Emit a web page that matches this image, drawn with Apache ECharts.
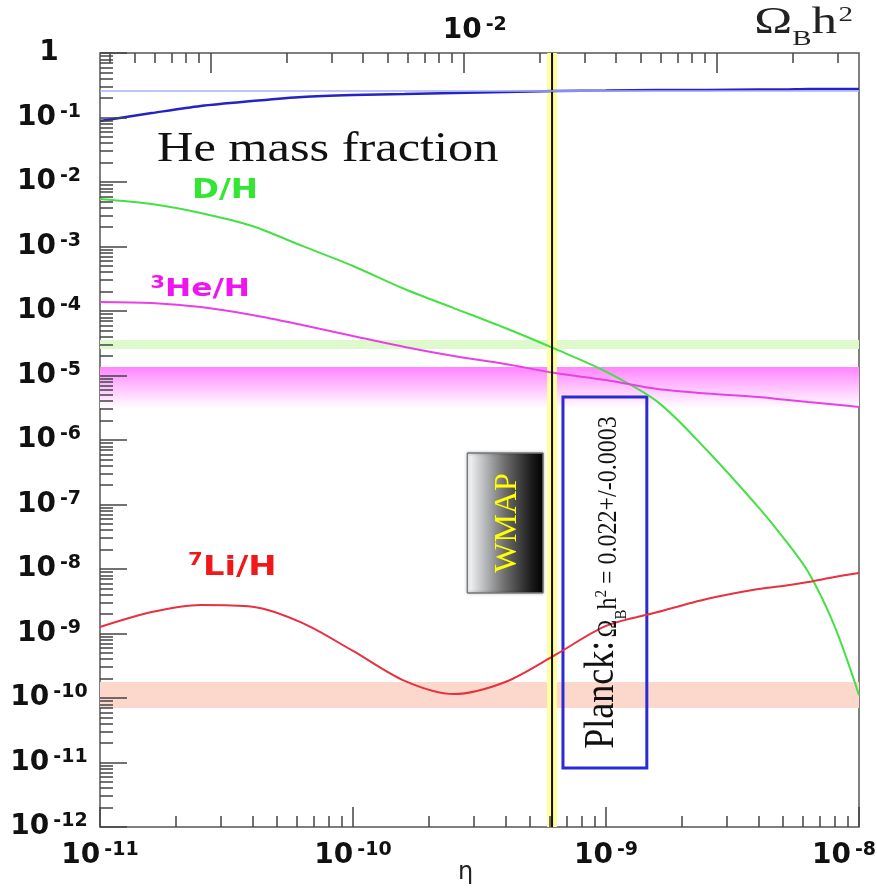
<!DOCTYPE html>
<html>
<head>
<meta charset="utf-8">
<script src="https://cdn.jsdelivr.net/npm/echarts@6/dist/echarts.min.js"></script>
<style>
  html, body { margin: 0; padding: 0; background: #fff; }
  #chart { width: 877px; height: 890px; }
</style>
</head>
<body>
<div id="chart"></div>
<script>
// baryon-to-photon ratio, shared by all curves
const eta = [1e-11, 1.6e-11, 2.5e-11, 4e-11, 6.3e-11, 1e-10, 1.6e-10, 2.5e-10, 4e-10, 6.3e-10,
  1e-9, 1.6e-9, 2.5e-9, 4e-9, 5e-9, 6.3e-9, 8e-9, 1e-8]
// predicted abundances
const heMass = [0.088, 0.117, 0.151, 0.180, 0.208, 0.223, 0.231, 0.240, 0.249, 0.258,
  0.262, 0.267, 0.267, 0.272, 0.272, 0.277, 0.277, 0.277]
const dH = [5.45e-3, 4.56e-3, 3.31e-3, 2.08e-3, 1.02e-3, 4.99e-4, 2.19e-4, 1.11e-4, 5.45e-5, 2.58e-5,
  1.15e-5, 3.9e-6, 7.0e-7, 9.1e-8, 3.13e-8, 8.98e-9, 1.31e-9, 1.11e-10]
const he3H = [1.38e-4, 1.33e-4, 1.15e-4, 8.67e-5, 6.07e-5, 4.10e-5, 2.77e-5, 2.01e-5, 1.51e-5, 1.09e-5,
  8.51e-6, 6.17e-6, 5.26e-6, 4.64e-6, 4.25e-6, 3.88e-6, 3.55e-6, 3.25e-6]
const li7H = [1.26e-9, 2.15e-9, 2.77e-9, 2.6e-9, 1.46e-9, 5.36e-10, 1.84e-10, 1.15e-10, 1.77e-10, 4.65e-10,
  1.31e-9, 2.15e-9, 3.43e-9, 4.90e-9, 5.45e-9, 6.29e-9, 7.51e-9, 8.67e-9]

// observed ranges
const heObs = 0.26
const dObs = [2.58e-5, 3.55e-5]
const he3Obs = [3.13e-6, 1.36e-5]
const liObs = [7.0e-11, 1.77e-10]
const wmapEta = 6.12e-10
const wmapBand = [5.85e-10, 6.4e-10]
const wmapBox = [[2.83e-10, 4.25e-9], [5.64e-10, 6.29e-7]]
const planckBox = [[6.76e-10, 8.2e-12], [1.45e-9, 4.64e-6]]

// axes
const etaRange = [1e-11, 1e-8]
const yRange = [1e-12, 1]
const etaPerOmega = 2.74e-8
const etaDecades = [1e-11, 1e-10, 1e-9, 1e-8]
const yDecades = [1e-12, 1e-11, 1e-10, 1e-9, 1e-8, 1e-7, 1e-6, 1e-5, 1e-4, 1e-3, 1e-2, 1e-1, 1]
const omegaDecades = [1e-3, 1e-2, 1e-1]
const omegaLabels = [1e-2]

function minorTicks (lo, hi) {
  let out = []
  for (let d = lo; d < hi * 0.999; d *= 10) {
    for (let m = 2; m <= 9; m++) out.push(d * m)
  }
  return out
}
const omegaRange = [etaRange[0] / etaPerOmega, etaRange[1] / etaPerOmega]
const etaMinor = minorTicks(1e-11, 1e-8)
const yMinor = minorTicks(1e-12, 1)
const omegaMinor = minorTicks(1e-4, 1).filter(v => v > omegaRange[0] && v < omegaRange[1])

function pow10Label (v) {
  const e = Math.round(Math.log10(v))
  if (e === 0) return '{b|1}'
  return '{b|10}{s|' + e + '}'
}
// the last bottom label sits left of its tick, as in the original
function etaLabel (v) {
  const e = Math.round(Math.log10(v))
  if (e === -8) return '{b|10}{se|' + e + '}'
  return '{b|10}{s|' + e + '}'
}
// top label sits a little right of its tick
function omegaLabel (v) {
  const e = Math.round(Math.log10(v))
  return '{bl|10}{s|' + e + '}'
}
const sans = 'DejaVu Sans'
const powRich = {
  b: { fontFamily: sans, fontWeight: 'bold', fontSize: 28, lineHeight: 30, color: '#111' },
  bl: { fontFamily: sans, fontWeight: 'bold', fontSize: 28, lineHeight: 30, color: '#111', padding: [0, 0, 0, 22] },
  s: { fontFamily: sans, fontWeight: 'bold', fontSize: 19, lineHeight: 16, verticalAlign: 'top', color: '#111', padding: [0, 0, 0, 4] },
  se: { fontFamily: sans, fontWeight: 'bold', fontSize: 19, lineHeight: 16, verticalAlign: 'top', color: '#111', padding: [0, 30, 0, 4] }
}
const tickLine = { color: '#444', width: 1.5 }

function pairs (ys) {
  return eta.map((x, i) => [x, ys[i]])
}

let chart = echarts.init(document.getElementById('chart'))
chart.setOption({
  animation: false,
  grid: {
    left: 100, right: 18, top: 53, bottom: 63,
    outerBoundsMode: 'none',
    containLabel: false,
    show: true, borderColor: '#555', borderWidth: 1.5, backgroundColor: 'transparent'
  },
  xAxis: [
    {
      type: 'log', position: 'bottom', min: etaRange[0], max: etaRange[1], z: 10,
      axisLine: { show: false },
      splitLine: { show: false },
      axisTick: { inside: true, length: 20, customValues: etaDecades, lineStyle: tickLine },
      axisLabel: { customValues: etaDecades, formatter: etaLabel, rich: powRich, margin: 14 },
      name: 'η', nameLocation: 'middle', nameGap: 34, nameMoveOverlap: false,
      nameTextStyle: { fontFamily: sans, fontSize: 24, color: '#222', padding: [0, 28, 0, 0] }
    },
    {
      type: 'log', position: 'bottom', min: etaRange[0], max: etaRange[1], z: 10,
      axisLine: { show: false },
      splitLine: { show: false },
      axisTick: { inside: true, length: 11, customValues: etaMinor, lineStyle: tickLine },
      axisLabel: { show: false }
    },
    {
      type: 'log', position: 'top', min: omegaRange[0], max: omegaRange[1], z: 10,
      axisLine: { show: false },
      splitLine: { show: false },
      axisTick: { inside: true, length: 20, customValues: omegaDecades, lineStyle: tickLine },
      axisLabel: { customValues: omegaLabels, formatter: omegaLabel, rich: powRich, margin: 7 }
    },
    {
      type: 'log', position: 'top', min: omegaRange[0], max: omegaRange[1], z: 10,
      axisLine: { show: false },
      splitLine: { show: false },
      axisTick: { inside: true, length: 10, customValues: omegaMinor, lineStyle: tickLine },
      axisLabel: { show: false }
    }
  ],
  yAxis: [
    {
      type: 'log', position: 'left', min: yRange[0], max: yRange[1], z: 10,
      axisLine: { show: false },
      splitLine: { show: false },
      axisTick: { inside: true, length: 27, customValues: yDecades, lineStyle: tickLine },
      axisLabel: { customValues: yDecades, formatter: pow10Label, rich: powRich, align: 'center', margin: 51 }
    },
    {
      type: 'log', position: 'left', min: yRange[0], max: yRange[1], z: 10,
      axisLine: { show: false },
      splitLine: { show: false },
      axisTick: { inside: true, length: 13, customValues: yMinor, lineStyle: tickLine },
      axisLabel: { show: false }
    }
  ],
  series: [
    {
      name: 'bands',
      type: 'line',
      data: [],
      z: 1,
      silent: true,
      markArea: {
        silent: true,
        label: { show: false },
        data: [
          [{ yAxis: dObs[0], itemStyle: { color: '#def9cc' } }, { yAxis: dObs[1] }],
          [{
            yAxis: he3Obs[1],
            itemStyle: {
              color: {
                type: 'linear', x: 0, y: 0, x2: 0, y2: 1,
                colorStops: [
                  { offset: 0, color: '#ff84ff' },
                  { offset: 0.45, color: '#ffbcff' },
                  { offset: 1, color: '#ffffff' }
                ]
              }
            }
          }, { yAxis: he3Obs[0] }],
          [{ yAxis: liObs[0], itemStyle: { color: '#fcd8cc' } }, { yAxis: liObs[1] }],
          [{ xAxis: wmapBand[0], itemStyle: { color: '#ffff9c' } }, { xAxis: wmapBand[1] }]
        ]
      },
      markLine: {
        silent: true,
        symbol: 'none',
        label: { show: false },
        lineStyle: { color: '#aab0ff', width: 1.5, type: 'solid' },
        data: [{ yAxis: heObs }]
      }
    },
    {
      name: 'He', type: 'line', data: pairs(heMass), z: 3,
      symbol: 'none', smooth: 0.3,
      lineStyle: { color: '#2424c4', width: 2.5 }
    },
    {
      name: 'D/H', type: 'line', data: pairs(dH), z: 3,
      symbol: 'none', smooth: 0.3,
      lineStyle: { color: '#44e044', width: 2 }
    },
    {
      name: '3He/H', type: 'line', data: pairs(he3H), z: 3,
      symbol: 'none', smooth: 0.3,
      lineStyle: { color: '#e840e8', width: 2 }
    },
    {
      name: '7Li/H', type: 'line', data: pairs(li7H), z: 3,
      symbol: 'none', smooth: 0.3,
      lineStyle: { color: '#e83040', width: 2 }
    },
    {
      // WMAP central value
      name: 'WMAP', type: 'line', z: 4,
      data: [[wmapEta, yRange[0]], [wmapEta, yRange[1]]],
      symbol: 'none', silent: true,
      lineStyle: { color: '#111', width: 2 }
    },
    {
      name: 'boxes',
      type: 'line',
      data: [],
      z: 5,
      silent: true,
      markArea: {
        silent: true,
        label: { show: false },
        data: [
          [{
            coord: wmapBox[0],
            itemStyle: {
              color: {
                type: 'linear', x: 0, y: 0, x2: 1, y2: 0,
                colorStops: [
                  { offset: 0, color: '#ffffff' },
                  { offset: 0.12, color: '#d8dadc' },
                  { offset: 0.5, color: '#6c6c6c' },
                  { offset: 0.85, color: '#1a1a1a' },
                  { offset: 1, color: '#000000' }
                ]
              },
              borderColor: '#777', borderWidth: 1,
              shadowBlur: 3, shadowColor: 'rgba(0,0,0,0.35)'
            }
          }, { coord: wmapBox[1] }],
          [{
            coord: planckBox[0],
            itemStyle: { color: 'rgba(0,0,0,0)', borderColor: '#2b2bd6', borderWidth: 3 }
          }, { coord: planckBox[1] }]
        ]
      }
    }
  ]
})

// annotations, placed through the data scales
const px = p => chart.convertToPixel({ xAxisIndex: 0, yAxisIndex: 0 }, p)
const mid = box => {
  const a = px(box[0])
  const b = px(box[1])
  return [(a[0] + b[0]) / 2, (a[1] + b[1]) / 2]
}
const serif = 'Liberation Serif'
const heAt = px([1.68e-11, 0.0313])
const dAt = px([2.31e-11, 7.25e-3])
const he3At = px([1.58e-11, 2.12e-4])
const liAt = px([2.23e-11, 1.04e-8])
const wmapAt = mid(wmapBox)
const planckAt = mid(planckBox)

chart.setOption({
  graphic: [
    {
      type: 'text', x: 853, y: 50, scaleX: 1.38, z: 20,
      style: {
        text: '{o|Ω}{sb|B}{o|h}{sp|2}',
        align: 'right', verticalAlign: 'bottom',
        rich: {
          o: { fontFamily: serif, fontSize: 37, lineHeight: 37, verticalAlign: 'bottom', padding: [0, 0, 8, 0], fill: '#222' },
          sb: { fontFamily: serif, fontSize: 21, lineHeight: 21, verticalAlign: 'bottom', fill: '#222' },
          sp: { fontFamily: serif, fontSize: 21, lineHeight: 21, verticalAlign: 'bottom', padding: [0, 0, 24, 1], fill: '#222' }
        }
      }
    },
    {
      type: 'text', x: heAt[0], y: heAt[1], scaleX: 1.2, z: 20,
      style: { text: 'He mass fraction', fontFamily: serif, fontSize: 42, fill: '#111', align: 'left', verticalAlign: 'middle' }
    },
    {
      type: 'text', x: dAt[0], y: dAt[1], scaleX: 1.25, z: 20,
      style: { text: 'D/H', fontFamily: sans, fontWeight: 'bold', fontSize: 26, fill: '#33e633', align: 'left', verticalAlign: 'middle' }
    },
    {
      type: 'text', x: he3At[0], y: he3At[1], scaleX: 1.25, z: 20,
      style: {
        text: '{s|3}{b|He/H}', align: 'left', verticalAlign: 'middle',
        rich: {
          s: { fontFamily: sans, fontWeight: 'bold', fontSize: 17, lineHeight: 14, verticalAlign: 'top', fill: '#f014f0' },
          b: { fontFamily: sans, fontWeight: 'bold', fontSize: 25, lineHeight: 30, fill: '#f014f0' }
        }
      }
    },
    {
      type: 'text', x: liAt[0], y: liAt[1], scaleX: 1.25, z: 20,
      style: {
        text: '{s|7}{b|Li/H}', align: 'left', verticalAlign: 'middle',
        rich: {
          s: { fontFamily: sans, fontWeight: 'bold', fontSize: 17, lineHeight: 14, verticalAlign: 'top', fill: '#f01818' },
          b: { fontFamily: sans, fontWeight: 'bold', fontSize: 27, lineHeight: 32, fill: '#f01818' }
        }
      }
    },
    {
      type: 'text', x: wmapAt[0] + 2, y: wmapAt[1], rotation: Math.PI / 2, z: 20,
      style: { text: 'WMAP', fontFamily: serif, fontSize: 32, fill: '#ffff00', align: 'center', verticalAlign: 'middle' }
    },
    {
      type: 'text', x: planckAt[0] + 4, y: planckAt[1], rotation: Math.PI / 2, scaleY: 1.15, z: 20,
      style: {
        text: '{p|Planck:} {r|Ω}{sb|B}{r|h}{sp|2}{r| = 0.022+/-0.0003}',
        align: 'center', verticalAlign: 'middle',
        rich: {
          p: { fontFamily: serif, fontSize: 36, lineHeight: 36, verticalAlign: 'bottom', padding: [0, 0, 6, 0], fill: '#111' },
          r: { fontFamily: serif, fontSize: 24, lineHeight: 24, verticalAlign: 'bottom', padding: [0, 0, 6, 0], fill: '#111' },
          sb: { fontFamily: serif, fontSize: 15, lineHeight: 15, verticalAlign: 'bottom', fill: '#111' },
          sp: { fontFamily: serif, fontSize: 15, lineHeight: 15, verticalAlign: 'bottom', padding: [0, 0, 17, 0], fill: '#111' }
        }
      }
    }
  ]
})
</script>
</body>
</html>
